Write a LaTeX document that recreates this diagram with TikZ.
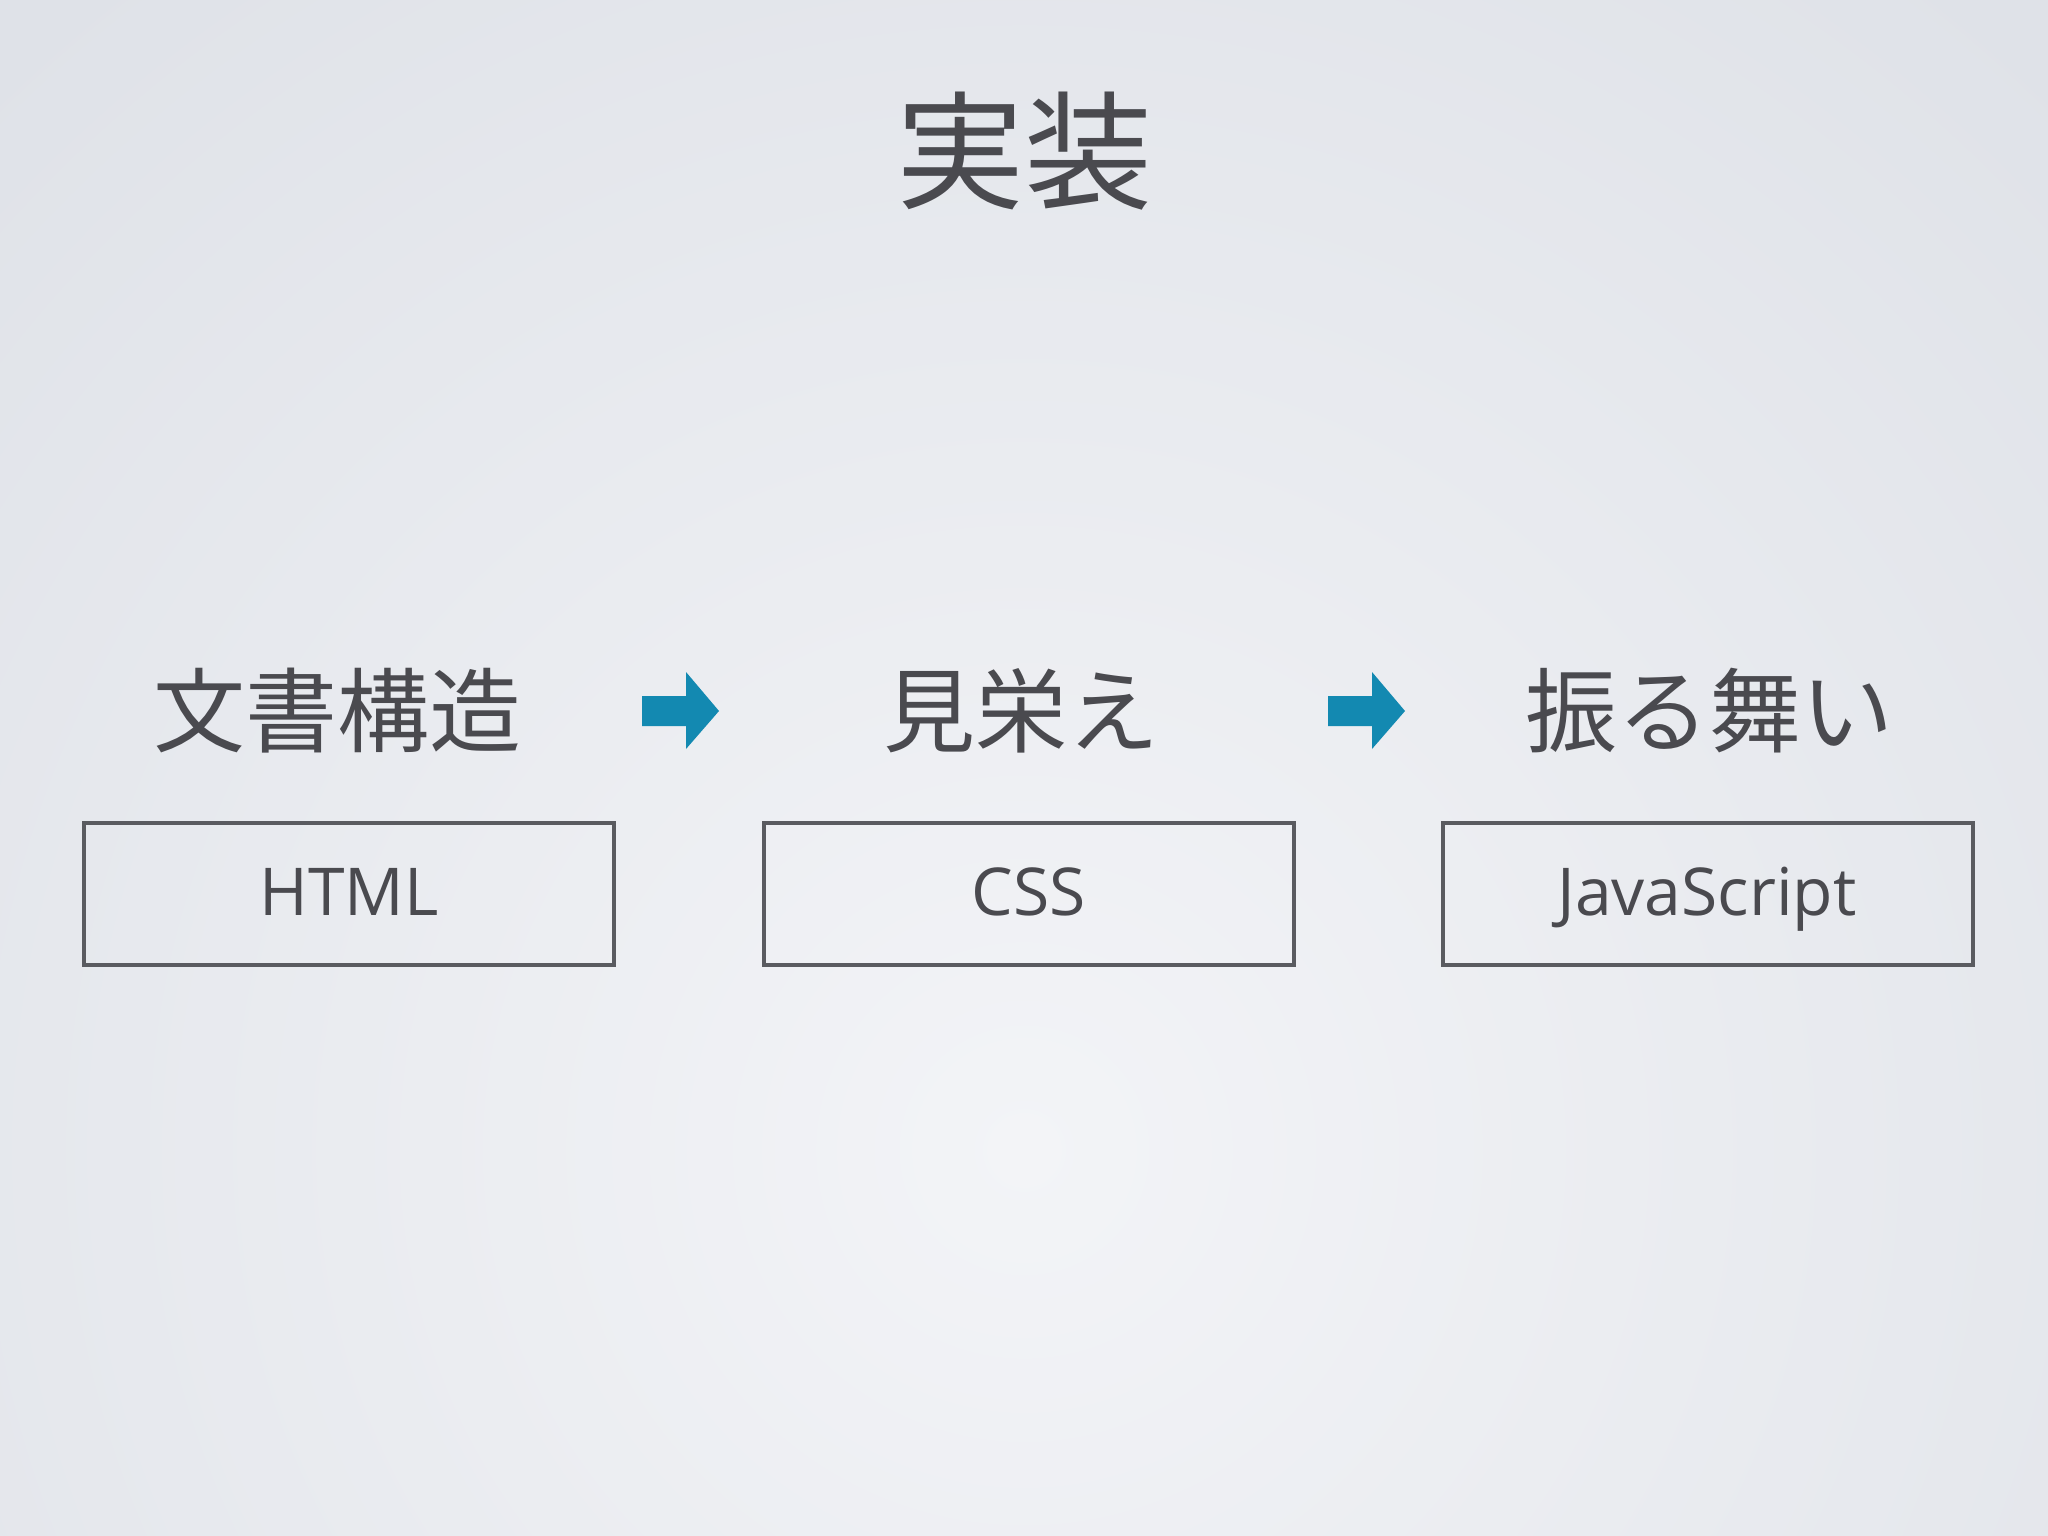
\documentclass[tikz,border=0pt]{standalone}
\usepackage{fontspec}
\setmainfont{Open Sans}
\newfontfamily\cjk{Noto Sans CJK JP}
\definecolor{txt}{HTML}{4A4A4F}
\definecolor{boxc}{HTML}{5A5B60}
\definecolor{arr}{HTML}{1389B1}
\definecolor{bgA}{HTML}{DFE2E8}
\definecolor{bgB}{HTML}{F3F4F7}
\tikzset{
  ttl/.style={inner sep=0pt, text=txt, font=\cjk\fontsize{128}{130}\selectfont},
  lbl/.style={inner sep=0pt, text=txt, font=\cjk\fontsize{92}{96}\selectfont},
  tech/.style={inner sep=0pt, anchor=base, text=txt, font=\fontsize{66}{70}\selectfont},
  techbox/.style={draw=boxc, line width=4pt, minimum width=530pt, minimum height=142pt, inner sep=0pt},
  blockarrow/.pic={\fill[arr] (0,-15) -- (44,-15) -- (44,-39) -- (77,0) -- (44,38) -- (44,15) -- (0,15) -- cycle;}
}
\begin{document}
\begin{tikzpicture}[x=1pt,y=-1pt]
\useasboundingbox (0,0) rectangle (2048,1536);
\fill[bgA] (0,0) rectangle (2048,1536);
\begin{scope}
\clip (0,0) rectangle (2048,1536);
\shade[inner color=bgB, outer color=bgA] (1024,1150) circle (1500pt);
\end{scope}

\node[ttl] (title) at (1024,151) {実装};

\node[lbl] (l1) at (337,711) {文書構造};
\node[lbl] (l2) at (1021,711) {見栄え};
\node[lbl] (l3) at (1709,711) {振る舞い};

\pic at (642,711) {blockarrow};
\pic at (1328,711) {blockarrow};

\node[techbox] (b1) at (349,894) {};
\node[techbox] (b2) at (1029,894) {};
\node[techbox] (b3) at (1708,894) {};

\node[tech] (t1) at (349,915) {HTML};
\node[tech] (t2) at (1029,915) {CSS};
\node[tech] (t3) at (1707,915) {JavaScript};
\end{tikzpicture}
\end{document}
